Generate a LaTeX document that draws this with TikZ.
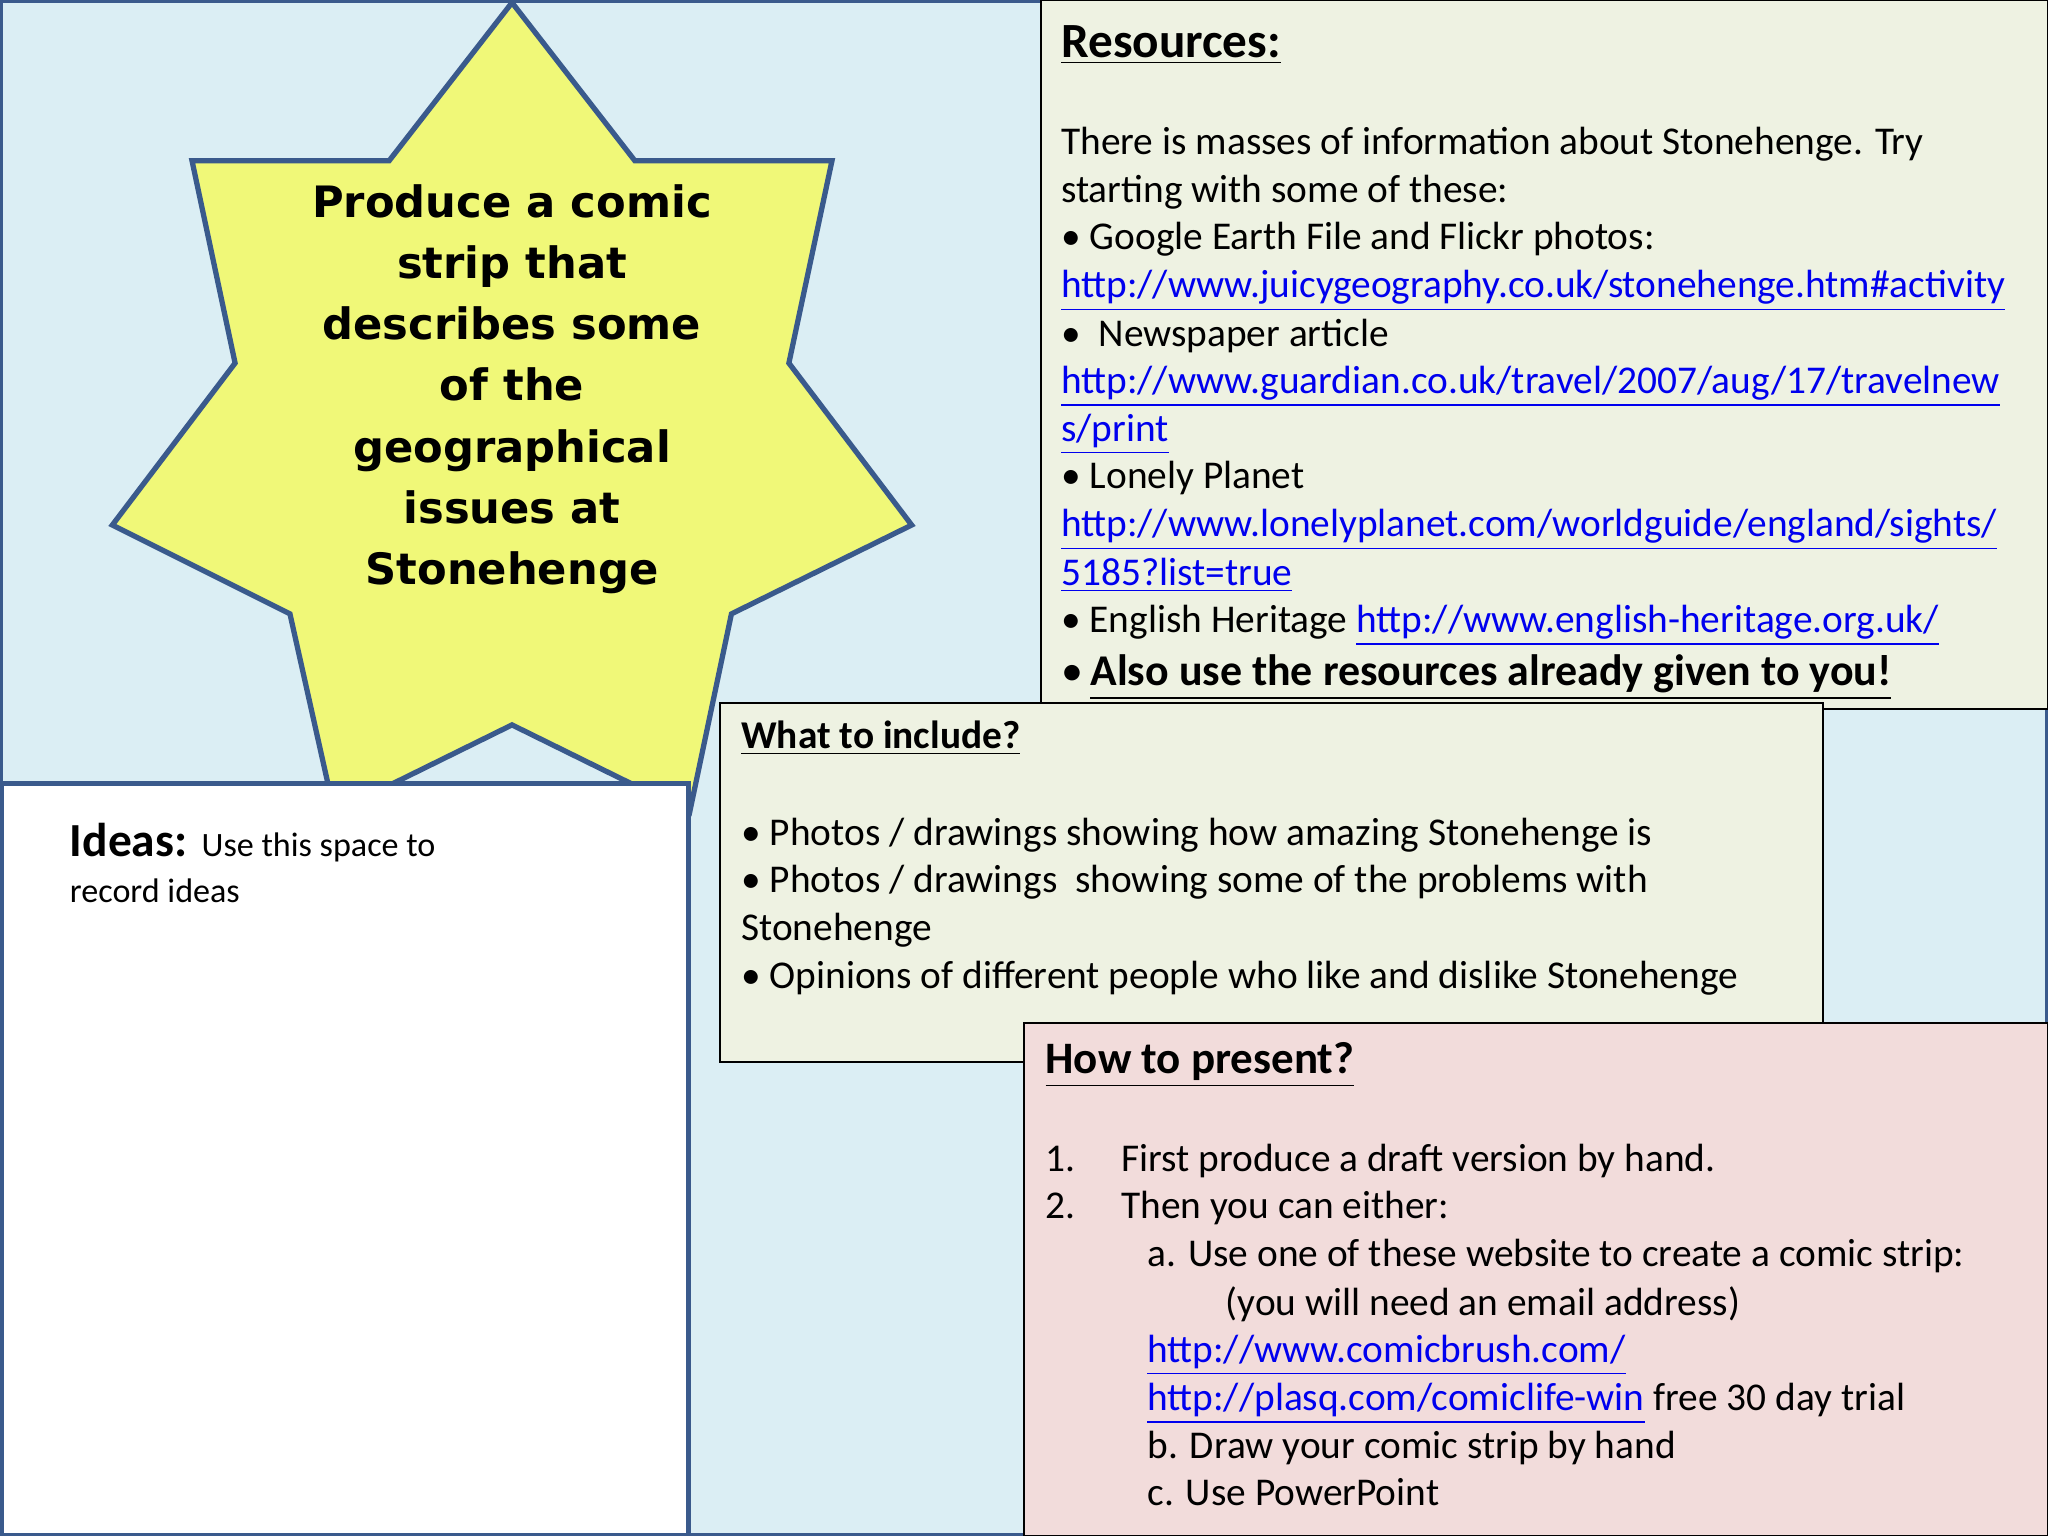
\documentclass[tikz,border=0pt]{standalone}
\usepackage{fontspec}
\setmainfont{Carlito}
\newfontfamily\comicf{DejaVu Sans}
\definecolor{bgblue}{HTML}{DBEEF4}
\definecolor{frameblue}{HTML}{3A5A8C}
\definecolor{staryel}{HTML}{F0F878}
\definecolor{greenbox}{HTML}{EEF2E2}
\definecolor{pinkbox}{HTML}{F2DCDB}
\definecolor{linkblue}{HTML}{0000EE}
\newcommand\lnk[1]{\textcolor{linkblue}{\underline{#1}}}
\begin{document}
\begin{tikzpicture}[x=0.013061cm,y=-0.013061cm,
  txt/.style={anchor=base west,inner sep=0pt,font=\fontsize{11.2}{13}\selectfont},
  ttl/.style={anchor=base west,inner sep=0pt,font=\fontsize{14}{16}\selectfont\bfseries},
  box/.style={draw=black,line width=0.6pt}]
\useasboundingbox (0,0) rectangle (1568,1176);
\fill[bgblue,draw=frameblue,line width=1.2pt] (1,1) rectangle (1567,1175);
\draw[fill=staryel,draw=frameblue,line width=1.5pt]
 (392,2) -- (486,123) -- (637,123) -- (604,278) -- (698,402) -- (560,470) -- (528,622)
 -- (392,555) -- (256,622) -- (222,470) -- (86,402) -- (180,278) -- (147,123) -- (298,123) -- cycle;
\node[align=center,inner sep=0pt,font=\comicf\fontsize{12.3}{17.4}\selectfont\bfseries] (star) at (392,298)
 {Produce a comic\\strip that\\describes some\\of the\\geographical\\issues at\\Stonehenge};
% Resources
\path[fill=greenbox,box] (797,0) rectangle (1568,543);
\node[ttl] (rt) at (812,44) {\underline{Resources:}};
\node[txt] (r1) at (812,118) {There is masses of information about Stonehenge. Try};
\node[txt] (r2) at (812,155) {starting with some of these:};
\node[txt] (r3) at (812,191) {• Google Earth File and Flickr photos:};
\node[txt] (r4) at (812,228) {\lnk{http://www.juicygeography.co.uk/stonehenge.htm\#activity}};
\node[txt] (r5) at (812,265) {•\ \ Newspaper article};
\node[txt] (r6) at (812,301) {\lnk{http://www.guardian.co.uk/travel/2007/aug/17/travelnew}};
\node[txt] (r7) at (812,338) {\lnk{s/print}};
\node[txt] (r8) at (812,374) {• Lonely Planet};
\node[txt] (r9) at (812,411) {\lnk{http://www.lonelyplanet.com/worldguide/england/sights/}};
\node[txt] (r10) at (812,448) {\lnk{5185?list=true}};
\node[txt] (r11) at (812,484) {• English Heritage \lnk{http://www.english-heritage.org.uk/}};
\node[txt,font=\fontsize{12.5}{15}\selectfont] (r12) at (812,525) {•\,\textbf{\underline{Also use the resources already given to you!}}};
% What to include
\path[fill=greenbox,box] (551,538) rectangle (1396,813);
\node[txt,font=\fontsize{11.2}{13}\selectfont\bfseries] (wt) at (567,573) {\underline{What to include?}};
\node[txt] (w1) at (567,647) {• Photos / drawings showing how amazing Stonehenge is};
\node[txt] (w2) at (567,683) {• Photos / drawings\ \ showing some of the problems with};
\node[txt] (w3) at (567,720) {Stonehenge};
\node[txt] (w4) at (567,757) {• Opinions of different people who like and dislike Stonehenge};
% How to present
\path[fill=pinkbox,box] (784,783) rectangle (1568,1176);
\node[ttl,font=\fontsize{12.8}{15}\selectfont\bfseries] (ht) at (800,822) {\underline{How to present?}};
\node[txt] (h1n) at (800,897) {1.};
\node[txt] (h1) at (858,897) {First produce a draft version by hand.};
\node[txt] (h2n) at (800,933) {2.};
\node[txt] (h2) at (858,933) {Then you can either:};
\node[txt] (h3) at (878,970) {a. Use one of these website to create a comic strip:};
\node[txt] (h4) at (938,1007) {(you will need an email address)};
\node[txt] (h5) at (878,1043) {\lnk{http://www.comicbrush.com/}};
\node[txt] (h6) at (878,1080) {\lnk{http://plasq.com/comiclife-win} free 30 day trial};
\node[txt] (h7) at (878,1117) {b. Draw your comic strip by hand};
\node[txt] (h8) at (878,1153) {c. Use PowerPoint};
% Ideas
\path[fill=white,draw=frameblue,line width=1.5pt] (1,600) rectangle (527,1176);
\node[txt,font=\fontsize{13.5}{16}\selectfont] (it) at (53,656) {\textbf{Ideas:} {\fontsize{9.7}{12}\selectfont Use this space to}};
\node[txt,font=\fontsize{9.7}{12}\selectfont] (i2) at (53,691) {record ideas};
\end{tikzpicture}
\end{document}
